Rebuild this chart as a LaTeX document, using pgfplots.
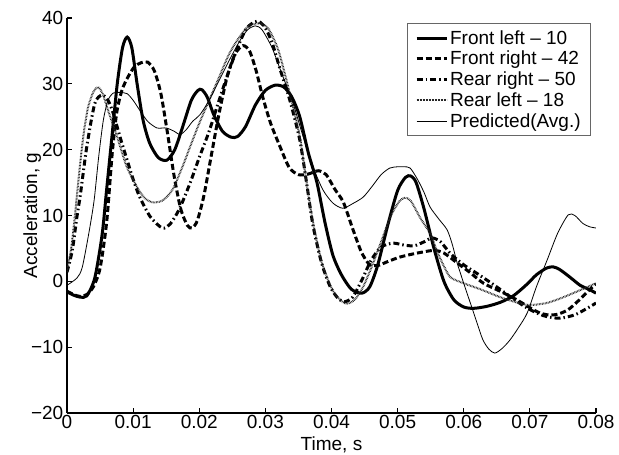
\documentclass[border=0pt]{standalone}
\usepackage{fontspec}
\setmainfont{Liberation Sans}
\usepackage{pgfplots}
\pgfplotsset{compat=1.18}
\begin{document}
\begin{tikzpicture}
\begin{axis}[
  at={(0,0)}, anchor=south west,
  scale only axis, width=529pt, height=395pt,
  xmin=0, xmax=0.08, ymin=-20, ymax=40,
  axis x line*=bottom, axis y line*=left,
  axis line style={line width=1.2pt},
  every tick/.style={line width=1.2pt, black},
  major tick length=5pt, tick align=inside,
  xtick={0,0.01,0.02,0.03,0.04,0.05,0.06,0.07,0.08},
  xticklabels={0,0.01,0.02,0.03,0.04,0.05,0.06,0.07,0.08},
  ytick={-20,-10,0,10,20,30,40},
  yticklabels={−20,−10,0,10,20,30,40},
  scaled x ticks=false,
  tick label style={font=\fontsize{19}{22}\selectfont},
  xticklabel style={inner sep=2.5pt},
  yticklabel style={inner sep=3.5pt},
  label style={font=\fontsize{19}{22}\selectfont},
  xlabel={Time, s}, ylabel={Acceleration, g},
  xlabel style={at={(axis description cs:0.5,-0.096)}, anchor=base},
  ylabel style={at={(axis description cs:-0.066,0.5)}, anchor=center, rotate=0},
  legend style={at={(0.9905,0.987)}, anchor=north east, draw=black!60, line width=0.6pt,
    font=\fontsize{19}{21.3}\selectfont, inner xsep=8pt, inner ysep=5pt, row sep=1.5pt,
    cells={anchor=west}},
  legend image code/.code={\draw[#1] (0pt,0pt) -- (30pt,0pt);},
  legend cell align=left,
]
% Front left - 10
\addplot[black, line width=3pt, smooth, tension=0.45] coordinates {
(0,-1.6) (0.001,-2.1) (0.002,-2.4) (0.003,-2.2) (0.0042,0.5) (0.0053,7) (0.006,14) (0.0068,22)
(0.0076,30) (0.0084,35.5) (0.0091,37.1) (0.0098,35.5) (0.0106,30) (0.0115,24.5) (0.0125,21)
(0.0138,18.8) (0.0151,18.4) (0.0163,20) (0.0175,23.5) (0.0188,27.5) (0.0198,29) (0.0204,29.1)
(0.0212,28) (0.0222,25.3) (0.0235,22.8) (0.0248,21.9) (0.0258,22) (0.0270,23.5) (0.0285,26.8)
(0.0300,29) (0.0315,29.8) (0.0328,29.5) (0.0340,28) (0.0352,25) (0.0365,19.5) (0.0378,15)
(0.0390,9) (0.0402,4) (0.0415,1) (0.0430,-1.2) (0.0446,-1.8) (0.0458,-0.8) (0.0470,2.5)
(0.0485,8.5) (0.0500,13.8) (0.0512,15.8) (0.0520,16) (0.0528,15) (0.0540,11) (0.0555,5)
(0.0570,0) (0.0585,-2.8) (0.0600,-3.9) (0.0615,-4.1) (0.0635,-3.8) (0.0655,-3.2) (0.0675,-2.2)
(0.0695,-0.5) (0.0710,1.0) (0.0725,2.0) (0.0735,2.2) (0.0745,1.8) (0.0761,0.6) (0.0776,-0.6)
(0.0791,-1.3) (0.0800,-1.8)};
\addlegendentry{Front left – 10}
% Front right - 42
\addplot[black, line width=3pt, dash pattern=on 6pt off 3pt, smooth, tension=0.45] coordinates {
(0,-1.5) (0.001,-2) (0.002,-2.3) (0.003,-2) (0.004,-0.8) (0.005,2) (0.006,9) (0.0068,19)
(0.0075,25.5) (0.0083,29) (0.0092,31) (0.0102,32.6) (0.0112,33.2) (0.0122,33.3) (0.0132,32)
(0.0142,28.5) (0.0152,22.5) (0.0162,16) (0.0172,11) (0.0182,8.5) (0.0189,8.1) (0.0197,9.2)
(0.0207,13) (0.0218,19) (0.0230,25.5) (0.0242,31) (0.0254,34.5) (0.0266,35.8) (0.0276,35)
(0.0286,32) (0.0296,28) (0.0308,24) (0.0322,20.5) (0.0336,17.3) (0.0350,16.2) (0.0365,16.3)
(0.0380,16.8) (0.0392,16.2) (0.0405,14) (0.0418,12) (0.0432,8) (0.0445,4.5) (0.0457,2.6)
(0.0470,2.4) (0.0485,3) (0.0504,3.7) (0.0530,4.3) (0.0555,4.7) (0.0570,4.3) (0.0590,2.8)
(0.0610,1.3) (0.0630,-0.3) (0.0655,-1.5) (0.0680,-2.8) (0.0700,-4) (0.0715,-4.8) (0.0728,-5.1)
(0.0742,-5) (0.0758,-4.3) (0.0775,-2.8) (0.0790,-1.3) (0.0800,-0.4)};
\addlegendentry{Front right – 42}
% Rear right - 50
\addplot[black, line width=3pt, dash pattern=on 6pt off 3pt on 1.5pt off 3pt, smooth, tension=0.45] coordinates {
(0,1.4) (0.0008,4.7) (0.0015,9.8) (0.002,13) (0.003,20.5) (0.0042,27) (0.0053,28.3) (0.0062,27.5)
(0.007,25.5) (0.008,22) (0.0091,18.4) (0.010,15.5) (0.011,12.8) (0.0126,9.8) (0.0144,8.1)
(0.0156,8.7) (0.0170,11) (0.0186,14.9) (0.0200,18.8) (0.0215,22.8) (0.0230,27.5) (0.0245,32)
(0.0260,36) (0.0272,38.5) (0.0287,39.5) (0.0298,38.8) (0.0310,36.3) (0.0322,32.3) (0.0337,27.5)
(0.0352,21.5) (0.0363,14.5) (0.0372,8.5) (0.0385,2.8) (0.0398,-0.8) (0.0410,-2.6) (0.0420,-3.1)
(0.0432,-2.4) (0.0445,0) (0.0460,3.2) (0.0475,5.2) (0.0493,5.8) (0.0510,5.5) (0.0525,5.4)
(0.0540,6) (0.0552,6.6) (0.0565,6) (0.0580,4.2) (0.0600,2.5) (0.0620,1.2) (0.0645,-0.5)
(0.0670,-2.3) (0.0695,-4) (0.0720,-5.2) (0.0745,-5.6) (0.0770,-5) (0.0800,-3.3)};
\addlegendentry{Rear right – 50}
% Rear left - 18
\addplot[black!85, line width=2pt, dash pattern=on 0.7pt off 0.8pt, smooth, tension=0.45] coordinates {
(0,1.5) (0.0007,5.5) (0.0013,11) (0.002,18) (0.0026,23) (0.0032,26.5) (0.004,28.8) (0.0047,29.5)
(0.0054,28.5) (0.0062,26) (0.0076,21.9) (0.009,17.5) (0.0106,14.3) (0.0118,12.6) (0.0130,12)
(0.0145,12.3) (0.0160,14) (0.0175,17.5) (0.0186,20.4) (0.0200,24) (0.0215,27.5) (0.0230,31)
(0.0245,34.5) (0.0260,37) (0.0275,38.8) (0.0292,39.2) (0.0305,38.3) (0.0320,35) (0.0337,28.5)
(0.0352,22) (0.0363,14.5) (0.0372,9) (0.0385,3) (0.0400,-1) (0.0412,-2.7) (0.0423,-3.4)
(0.0435,-2.8) (0.0447,-1) (0.0460,2) (0.0475,6) (0.0490,10) (0.0503,12.2) (0.0511,12.7)
(0.0520,12.2) (0.0535,9.5) (0.0549,7.3) (0.0560,4.5) (0.0570,2.3) (0.0580,0.6) (0.0600,-0.3)
(0.0625,-1.2) (0.0655,-2.4) (0.0680,-3.2) (0.0700,-3.6) (0.0725,-3.3) (0.0746,-2.6) (0.0770,-1.6)
(0.0800,-0.3)};
\addlegendentry{Rear left – 18}
% Predicted (Avg.)
\addplot[black, line width=0.8pt, smooth, tension=0.45] coordinates {
(0,-0.6) (0.0015,0.5) (0.0023,2.1) (0.0033,7.3) (0.0041,12.3) (0.0048,19) (0.0055,24.5) (0.0062,27.5)
(0.0070,28.6) (0.0080,28.7) (0.0091,28.5) (0.0100,27.5) (0.0110,26) (0.0122,24.3) (0.0136,23.3)
(0.0150,23.3) (0.0162,22.8) (0.0171,22.3) (0.0180,23) (0.0190,24.3) (0.0201,25.3) (0.0215,27.5)
(0.0230,30.5) (0.0245,33.5) (0.0260,36.3) (0.0273,38.2) (0.0285,38.8) (0.0295,38.2) (0.0310,35.5)
(0.0325,31.5) (0.0342,27) (0.0357,22) (0.0372,17.4) (0.0387,13.9) (0.0402,11.9) (0.0417,11.1)
(0.0432,11.8) (0.0448,12.8) (0.0462,14.5) (0.0475,16.2) (0.0488,17.2) (0.0500,17.4) (0.0510,17.4)
(0.0519,17.2) (0.0530,15.5) (0.0540,13.5) (0.0549,11.3) (0.0562,9.5) (0.0575,7.8) (0.0583,5.5)
(0.0590,2.8) (0.0600,-0.3) (0.0610,-3.3) (0.0620,-6.3) (0.0629,-8.9) (0.0638,-10.3) (0.0647,-10.9)
(0.0658,-10.2) (0.0670,-8.9) (0.0683,-7) (0.0696,-4.8) (0.0710,-0.8) (0.0726,3.2) (0.0742,7.3)
(0.0758,10.1) (0.0768,10) (0.0780,8.8) (0.0790,8.3) (0.0800,8.1)};
\addlegendentry{Predicted(Avg.)}
\end{axis}
\pgfresetboundingbox
\useasboundingbox (-67pt,-42pt) rectangle (552pt,413pt);
\end{tikzpicture}
\end{document}
